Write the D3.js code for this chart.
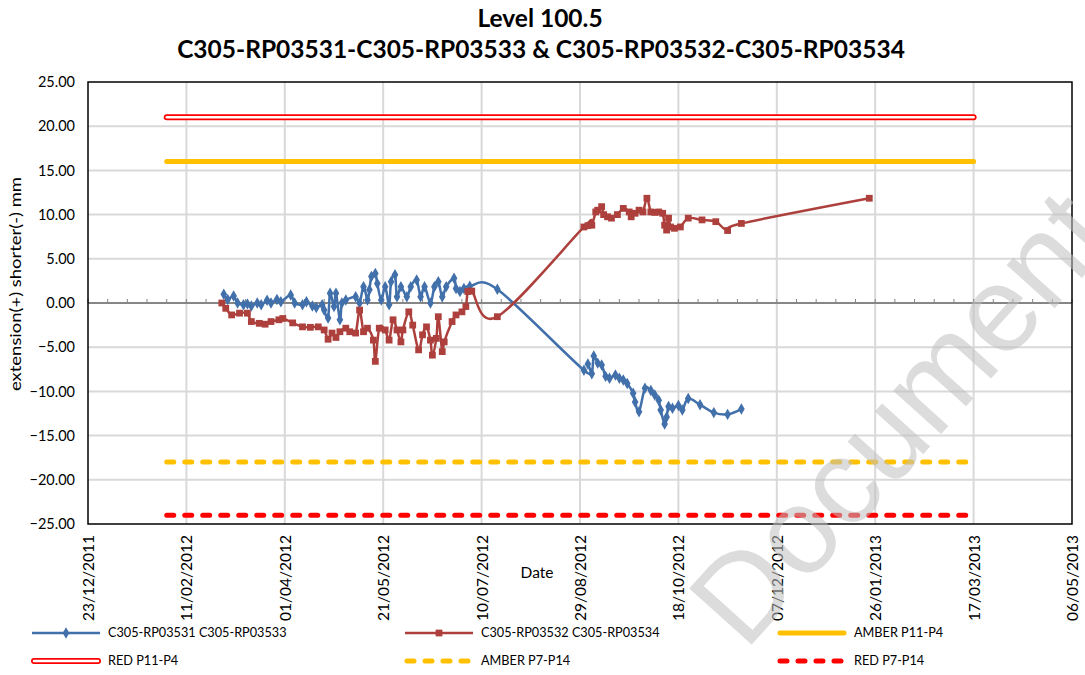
<!DOCTYPE html>
<html>
<head>
<meta charset="utf-8">
<script src="https://cdnjs.cloudflare.com/ajax/libs/d3/7.8.5/d3.min.js"></script>
<style>
  body { margin: 0; background: #fff; }
  text { font-family: Lato, "Liberation Sans", sans-serif; }
</style>
</head>
<body>
<div id="chart"></div>
<script>
// readings
var blueDates = ["2012-03-01","2012-03-03","2012-03-06","2012-03-08","2012-03-11","2012-03-13","2012-03-15","2012-03-18","2012-03-20","2012-03-23",
  "2012-03-25","2012-03-28","2012-03-30","2012-04-04","2012-04-06","2012-04-10","2012-04-12","2012-04-15","2012-04-17","2012-04-20",
  "2012-04-21","2012-04-23","2012-04-24","2012-04-26","2012-04-27","2012-04-29","2012-04-30","2012-05-02","2012-05-07","2012-05-09",
  "2012-05-11","2012-05-13","2012-05-14","2012-05-15","2012-05-17","2012-05-18","2012-05-20","2012-05-22","2012-05-24","2012-05-25",
  "2012-05-27","2012-05-28","2012-05-30","2012-06-02","2012-06-04","2012-06-07","2012-06-09","2012-06-11","2012-06-14","2012-06-16",
  "2012-06-18","2012-06-20","2012-06-22","2012-06-26","2012-06-27","2012-06-29","2012-07-01","2012-07-04","2012-07-18","2012-08-31",
  "2012-09-02","2012-09-04","2012-09-05","2012-09-07","2012-09-09","2012-09-11","2012-09-13","2012-09-16","2012-09-18","2012-09-20",
  "2012-09-22","2012-09-25","2012-09-26","2012-09-28","2012-10-01","2012-10-04","2012-10-06","2012-10-08","2012-10-09","2012-10-11",
  "2012-10-12","2012-10-13","2012-10-15","2012-10-18","2012-10-20","2012-10-23","2012-10-29","2012-11-05","2012-11-12","2012-11-19"];
var blueValues = [1.0,0.4,0.8,0.0,-0.2,-0.1,-0.35,0.0,-0.2,0.3,
  0.0,0.4,0.15,0.9,0.0,-0.2,0.15,-0.35,-0.5,-0.2,
  -0.8,-1.7,1.1,-0.4,1.1,-1.9,0.0,0.35,0.7,0.0,
  1.85,0.35,1.5,3.0,3.35,2.2,0.35,1.85,-0.2,2.4,
  3.2,0.7,1.85,0.7,1.85,2.6,0.7,1.85,0.0,1.85,
  2.4,0.7,1.85,2.8,1.65,1.3,1.65,1.9,1.55,-7.6,
  -6.9,-8.0,-6.0,-6.8,-7.0,-8.3,-8.5,-8.15,-8.5,-8.7,
  -9.1,-10.2,-11.2,-12.3,-9.65,-9.9,-10.4,-11.0,-12.1,-13.7,
  -12.9,-11.7,-11.9,-11.6,-12.1,-10.8,-11.5,-12.4,-12.6,-12.0];

var redDates = ["2012-02-29","2012-03-02","2012-03-05","2012-03-09","2012-03-13","2012-03-15","2012-03-19","2012-03-22","2012-03-25","2012-03-29",
  "2012-03-31","2012-04-05","2012-04-10","2012-04-14","2012-04-18","2012-04-21","2012-04-23","2012-04-25","2012-04-27","2012-04-29",
  "2012-05-02","2012-05-04","2012-05-07","2012-05-09","2012-05-11","2012-05-13","2012-05-16","2012-05-17","2012-05-19","2012-05-22",
  "2012-05-24","2012-05-26","2012-05-28","2012-05-30","2012-05-31","2012-06-03","2012-06-05","2012-06-08","2012-06-10","2012-06-12",
  "2012-06-14","2012-06-15","2012-06-17","2012-06-18","2012-06-20","2012-06-21","2012-06-25","2012-06-27","2012-06-30","2012-07-02",
  "2012-07-03","2012-07-05","2012-07-18","2012-08-31","2012-09-02","2012-09-04","2012-09-06","2012-09-07","2012-09-09","2012-09-10",
  "2012-09-12","2012-09-14","2012-09-17","2012-09-20","2012-09-23","2012-09-24","2012-09-26","2012-09-28","2012-09-30","2012-10-02",
  "2012-10-04","2012-10-06","2012-10-08","2012-10-10","2012-10-11","2012-10-12","2012-10-13","2012-10-14","2012-10-16","2012-10-19",
  "2012-10-23","2012-10-30","2012-11-06","2012-11-12","2012-11-19","2013-01-23"];
var redValues = [0.0,-0.6,-1.35,-1.15,-1.15,-2.1,-2.3,-2.4,-2.1,-1.9,
  -1.75,-2.25,-2.7,-2.75,-2.7,-3.05,-4.1,-3.4,-3.9,-3.25,
  -2.85,-3.25,-3.4,-0.8,-3.25,-2.85,-4.2,-6.6,-2.85,-3.05,
  -4.2,-1.9,-3.05,-4.4,-3.05,-1.0,-2.5,-5.3,-3.6,-2.7,
  -4.2,-5.9,-4.0,-1.55,-5.5,-4.4,-2.1,-1.35,-1.0,-0.4,
  1.3,1.35,-1.55,8.6,8.75,8.8,10.3,10.5,10.9,10.0,
  9.75,9.6,10.0,10.7,10.3,9.75,10.15,10.5,10.3,11.85,
  10.3,10.25,10.3,10.15,8.8,8.25,9.6,8.6,8.45,8.6,
  9.6,9.4,9.2,8.2,9.0,11.85];

// limit lines
var limitNames  = ["RED P11-P4", "AMBER P11-P4", "AMBER P7-P14", "RED P7-P14"];
var limitValues = [21, 16, -18, -24];
var limitStart  = "2012-02-01";
var limitEnd    = "2013-03-17";

var seriesNames = ["C305-RP03531 C305-RP03533", "C305-RP03532 C305-RP03534"];
var xStart = "2011-12-23", xEnd = "2013-05-06", xStepDays = 50;
var yTicks = d3.range(-25, 26, 5);

var W = 1085, H = 675;
var margin = { top: 82, right: 13, bottom: 151, left: 88 };
var parse = d3.utcParse("%Y-%m-%d");

var svg = d3.select("#chart").append("svg")
    .attr("width", W).attr("height", H);

var x = d3.scaleUtc()
    .domain([parse(xStart), parse(xEnd)])
    .range([margin.left, W - margin.right]);
var y = d3.scaleLinear()
    .domain([-25, 25])
    .range([H - margin.bottom, margin.top]);

var xTicks = d3.range(0, 501, xStepDays).map(function(d) { return d3.utcDay.offset(parse(xStart), d); });
var minorTicks = d3.range(0, 501, 10).map(function(d) { return d3.utcDay.offset(parse(xStart), d); });

var blue = "#4170aa", red = "#ad403c", amber = "#ffc000", bright = "#ff0000";

// grid
svg.append("g").selectAll("line").data(yTicks.slice(1, -1)).enter().append("line")
    .attr("x1", margin.left).attr("x2", W - margin.right)
    .attr("y1", function(d) { return y(d); }).attr("y2", function(d) { return y(d); })
    .style("stroke", "#d9d9d9").style("stroke-width", 2);
svg.append("g").selectAll("line").data(xTicks.slice(1, -1)).enter().append("line")
    .attr("x1", function(d) { return x(d); }).attr("x2", function(d) { return x(d); })
    .attr("y1", margin.top).attr("y2", H - margin.bottom)
    .style("stroke", "#d9d9d9").style("stroke-width", 2);

// zero axis with ticks
svg.append("line")
    .attr("x1", margin.left).attr("x2", W - margin.right)
    .attr("y1", y(0)).attr("y2", y(0))
    .style("stroke", "#868686").style("stroke-width", 2);
svg.append("g").selectAll("line").data(minorTicks).enter().append("line")
    .attr("x1", function(d) { return x(d); }).attr("x2", function(d) { return x(d); })
    .attr("y1", y(0) - 4).attr("y2", y(0))
    .style("stroke", "#868686").style("stroke-width", 1);

// border
svg.append("rect")
    .attr("x", margin.left).attr("y", margin.top)
    .attr("width", W - margin.left - margin.right).attr("height", H - margin.top - margin.bottom)
    .style("fill", "none").style("stroke", "#000").style("stroke-width", 1.5);

// y axis
var yAxis = d3.axisLeft(y).tickValues(yTicks).tickSize(0).tickPadding(13)
    .tickFormat(d3.format(".2f"));
var gy = svg.append("g").attr("transform", "translate(" + margin.left + ",0)").call(yAxis);
gy.select(".domain").remove();
gy.selectAll("text").style("font-size", "14.5px").style("fill", "#000")
    .style("font-family", "Lato, sans-serif");

// x axis labels
var xAxis = d3.axisBottom(x).tickValues(xTicks).tickSize(0)
    .tickFormat(d3.utcFormat("%d/%m/%Y"));
var gx = svg.append("g").attr("transform", "translate(0," + (H - margin.bottom) + ")").call(xAxis);
gx.select(".domain").remove();
gx.selectAll("text")
    .attr("transform", "rotate(-90)")
    .attr("x", -11).attr("y", 0).attr("dy", "0.35em")
    .style("text-anchor", "end")
    .style("font-size", "15.5px").style("fill", "#000")
    .style("font-family", "Lato, sans-serif");

svg.append("text").attr("x", 537).attr("y", 578).attr("text-anchor", "middle")
    .style("font-size", "15.5px").text("Date");
svg.append("text")
    .attr("transform", "translate(21,284) rotate(-90)")
    .attr("text-anchor", "middle").style("font-size", "15px")
    .attr("textLength", 214).attr("lengthAdjust", "spacingAndGlyphs")
    .text("extension(+) shorter(-) mm");

// limit lines
function limitLine(g, i, x1, x2, yy) {
    var name = limitNames[i];
    if (name == "RED P11-P4") {
        g.append("line").attr("x1", x1).attr("x2", x2).attr("y1", yy).attr("y2", yy)
            .style("stroke", bright).style("stroke-width", 6).style("stroke-linecap", "round");
        g.append("line").attr("x1", x1).attr("x2", x2).attr("y1", yy).attr("y2", yy)
            .style("stroke", "#fff").style("stroke-width", 2.5).style("stroke-linecap", "round");
    } else {
        var l = g.append("line").attr("x1", x1).attr("x2", x2).attr("y1", yy).attr("y2", yy)
            .style("stroke", name.indexOf("AMBER") == 0 ? amber : bright)
            .style("stroke-width", 5).style("stroke-linecap", "round");
        if (name.indexOf("P7") > 0) l.style("stroke-dasharray", "7,11");
    }
}
limitValues.forEach(function(v, i) {
    limitLine(svg.append("g"), i, x(parse(limitStart)), x(parse(limitEnd)), y(v));
});

// series
var line = d3.line()
    .x(function(d) { return x(d.date); })
    .y(function(d) { return y(d.value); })
    .curve(d3.curveCardinal.tension(0));

function makeSeries(dates, values) {
    return dates.map(function(d, i) { return { date: parse(d), value: values[i] }; });
}
var series = [
    { data: makeSeries(blueDates, blueValues), color: blue, symbol: d3.symbolDiamond, size: 38 },
    { data: makeSeries(redDates, redValues), color: red, symbol: d3.symbolSquare, size: 46 }
];

series.forEach(function(s) {
    svg.append("path").datum(s.data)
        .attr("d", line)
        .style("fill", "none").style("stroke", s.color).style("stroke-width", 2.5);
    svg.append("g").selectAll("path").data(s.data).enter().append("path")
        .attr("transform", function(d) { return "translate(" + x(d.date) + "," + y(d.value) + ")"; })
        .attr("d", d3.symbol().type(s.symbol).size(s.size))
        .style("fill", s.color);
});

// titles
svg.append("text").attr("x", 540).attr("y", 27).attr("text-anchor", "middle")
    .style("font-size", "24.5px").style("font-weight", "bold").text("Level 100.5");
svg.append("text").attr("x", 541).attr("y", 58).attr("text-anchor", "middle")
    .style("font-size", "24.5px").style("font-weight", "bold")
    .text("C305-RP03531-C305-RP03533 & C305-RP03532-C305-RP03534");

// legend
var legendX = [32, 405, 778], legendY = [633, 661];
var legendItems = [
    { name: seriesNames[0], kind: "series", s: 0 },
    { name: seriesNames[1], kind: "series", s: 1 },
    { name: limitNames[1], kind: "limit", i: 1 },
    { name: limitNames[0], kind: "limit", i: 0 },
    { name: limitNames[2], kind: "limit", i: 2 },
    { name: limitNames[3], kind: "limit", i: 3 }
];
legendItems.forEach(function(it, k) {
    var lx = legendX[k % 3], ly = legendY[Math.floor(k / 3)];
    var g = svg.append("g");
    if (it.kind == "series") {
        var s = series[it.s];
        g.append("line").attr("x1", lx).attr("x2", lx + 68).attr("y1", ly).attr("y2", ly)
            .style("stroke", s.color).style("stroke-width", 2.5);
        g.append("path").attr("transform", "translate(" + (lx + 34) + "," + ly + ")")
            .attr("d", d3.symbol().type(s.symbol).size(s.size)).style("fill", s.color);
    } else {
        limitLine(g, it.i, lx + 2, lx + 66, ly);
    }
    g.append("text").attr("x", lx + 76).attr("y", ly).attr("dy", "0.35em")
        .style("font-size", "12.7px").text(it.name);
});

// watermark
svg.append("text")
    .attr("transform", "translate(745,652) rotate(-48)")
    .style("font-size", "122px").style("font-family", "Liberation Sans, sans-serif")
    .style("fill", "#c0c0c0").style("opacity", 0.55)
    .text("Document");
</script>
</body>
</html>
